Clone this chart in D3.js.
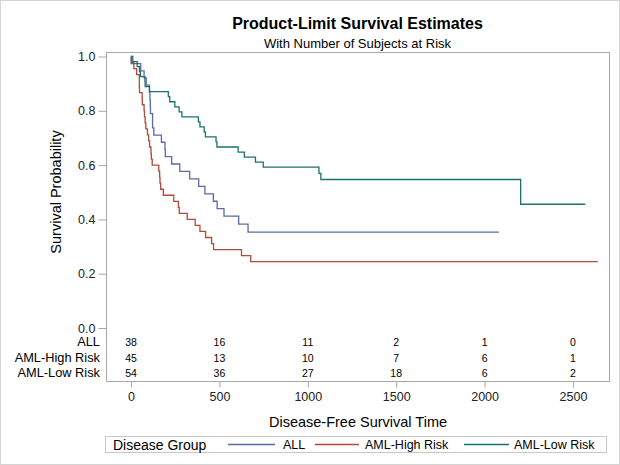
<!DOCTYPE html>
<html><head><meta charset="utf-8">
<script src="https://cdn.jsdelivr.net/npm/d3@7"></script>
<style>
html,body{margin:0;padding:0;background:#fff;}
svg{display:block;font-family:"Liberation Sans",Arial,sans-serif;}
</style></head>
<body>
<svg id="c" width="620" height="465"></svg>
<script>
const groups = ["ALL", "AML-High Risk", "AML-Low Risk"];
const colors = ["#5b69a8", "#b04a3c", "#1b7268"];

// Kaplan-Meier step points (time, survival)
const timeALL = [0,1,55,74,86,104,107,109,110,122,129,172,192,194,230,276,332,383,418,466,487,526,609,662,2081];
const survALL = [1,0.97368,0.94737,0.92105,0.89474,0.86842,0.84211,0.81579,0.78947,0.73684,0.71053,0.68421,0.65789,0.63158,0.60412,0.57666,0.54920,0.52174,0.49428,0.46682,0.43936,0.41190,0.38248,0.35306,0.35306];

const timeHigh = [0,2,16,32,47,48,63,64,74,76,80,84,93,100,105,113,115,120,157,162,164,168,183,242,268,273,318,363,390,422,456,467,625,677,2640];
const survHigh = [1,0.97778,0.95556,0.93333,0.88889,0.86667,0.84444,0.82222,0.8,0.77778,0.75556,0.73333,0.71111,0.68889,0.66667,0.64444,0.62222,0.6,0.57778,0.55556,0.53333,0.51111,0.48889,0.46667,0.44444,0.42222,0.4,0.37778,0.35556,0.33333,0.31111,0.28889,0.26667,0.24444,0.24444];

const timeLow = [0,10,35,48,53,79,80,105,211,219,248,272,288,381,390,414,421,481,486,606,641,704,748,1063,1074,2204,2569];
const survLow = [1,0.98148,0.96296,0.94444,0.92593,0.90741,0.88889,0.87037,0.85185,0.83333,0.81481,0.79630,0.77778,0.75926,0.74074,0.72222,0.70370,0.68519,0.66667,0.64815,0.62963,0.61111,0.59259,0.56980,0.54700,0.45584,0.45584];

const riskTimes = [0, 500, 1000, 1500, 2000, 2500];
const riskALL  = [38, 16, 11, 2, 1, 0];
const riskHigh = [45, 13, 10, 7, 6, 1];
const riskLow  = [54, 36, 27, 18, 6, 2];

const xTicks = [0, 500, 1000, 1500, 2000, 2500];
const yTicks = [0, 0.2, 0.4, 0.6, 0.8, 1.0];

const series = [
  {name: groups[0], t: timeALL, s: survALL, risk: riskALL},
  {name: groups[1], t: timeHigh, s: survHigh, risk: riskHigh},
  {name: groups[2], t: timeLow, s: survLow, risk: riskLow}
];

const svg = d3.select("#c");
const W = 620, H = 465;
const frame = {l: 106, r: 609, t: 52, b: 381};

const x = d3.scaleLinear().domain([0, 2500]).range([131, 573]);
const y = d3.scaleLinear().domain([0, 1]).range([328, 56.5]);

// outer border
svg.append("rect").attr("x", 0.5).attr("y", 0.5).attr("width", W - 1).attr("height", H - 1)
  .attr("fill", "#fff").attr("stroke", "#d4d4d4");

// titles
svg.append("text").attr("x", 357.5).attr("y", 29).attr("text-anchor", "middle")
  .attr("font-size", 16).attr("font-weight", "bold").attr("fill", "#000")
  .text("Product-Limit Survival Estimates");
svg.append("text").attr("x", 357.5).attr("y", 48).attr("text-anchor", "middle")
  .attr("font-size", 13).attr("fill", "#000")
  .text("With Number of Subjects at Risk");

// frame
svg.append("rect").attr("x", frame.l + 0.5).attr("y", frame.t + 0.5)
  .attr("width", frame.r - frame.l).attr("height", frame.b - frame.t)
  .attr("fill", "none").attr("stroke", "#a8a8a8");

// y axis
const yAxis = d3.axisLeft(y).tickValues(yTicks).tickFormat(d3.format(".1f")).tickSize(8).tickPadding(3);
const gy = svg.append("g").attr("transform", `translate(${frame.l + 0.5},0)`).call(yAxis);
gy.select(".domain").remove();
gy.selectAll(".tick line").attr("stroke", "#a8a8a8");
gy.selectAll(".tick text").attr("font-size", 12.5).attr("fill", "#222")
  .attr("font-family", '"Liberation Sans",Arial,sans-serif');

// x axis
const xAxis = d3.axisBottom(x).tickValues(xTicks).tickFormat(d3.format("d")).tickSize(6).tickPadding(5);
const gx = svg.append("g").attr("transform", `translate(0,${frame.b + 0.5})`).call(xAxis);
gx.select(".domain").remove();
gx.selectAll(".tick line").attr("stroke", "#a8a8a8");
gx.selectAll(".tick text").attr("font-size", 12.5).attr("fill", "#222")
  .attr("font-family", '"Liberation Sans",Arial,sans-serif');

// axis labels
svg.append("text").attr("x", 358).attr("y", 427).attr("text-anchor", "middle")
  .attr("font-size", 14.5).attr("fill", "#000").text("Disease-Free Survival Time");
svg.append("text").attr("transform", `translate(61,192) rotate(-90)`).attr("text-anchor", "middle")
  .attr("font-size", 14.5).attr("fill", "#000").text("Survival Probability");

// curves
const line = d3.line().x(d => x(d[0])).y(d => y(d[1])).curve(d3.curveStepAfter);
series.forEach((sr, i) => {
  const pts = sr.t.map((t, j) => [t, sr.s[j]]);
  svg.append("path").attr("d", line(pts)).attr("fill", "none")
    .attr("stroke", colors[i]).attr("stroke-width", 1.3);
});

// at-risk table
const rowY = [346, 361.5, 377];
series.forEach((sr, i) => {
  svg.append("text").attr("x", 100).attr("y", rowY[i]).attr("text-anchor", "end")
    .attr("font-size", 12.8).attr("fill", "#000").text(sr.name);
  svg.selectAll(null).data(riskTimes).enter().append("text")
    .attr("x", d => x(d)).attr("y", rowY[i]).attr("text-anchor", "middle")
    .attr("font-size", 10.5).attr("fill", "#000")
    .text((d, j) => sr.risk[j]);
});

// legend
const lg = svg.append("g");
lg.append("rect").attr("x", 105.5).attr("y", 436.5).attr("width", 501).attr("height", 16)
  .attr("fill", "#fff").attr("stroke", "#c8c8c8");
lg.append("text").attr("x", 113).attr("y", 449.5).attr("font-size", 14).attr("fill", "#000").text("Disease Group");
const legItems = [
  {x1: 228, x2: 275, tx: 283},
  {x1: 315, x2: 359, tx: 365},
  {x1: 464, x2: 509, tx: 514}
];
legItems.forEach((it, i) => {
  lg.append("line").attr("x1", it.x1).attr("x2", it.x2).attr("y1", 444.5).attr("y2", 444.5)
    .attr("stroke", colors[i]).attr("stroke-width", 1.3);
  lg.append("text").attr("x", it.tx).attr("y", 449).attr("font-size", 12.5).attr("fill", "#000").text(groups[i]);
});
</script>
</body></html>
